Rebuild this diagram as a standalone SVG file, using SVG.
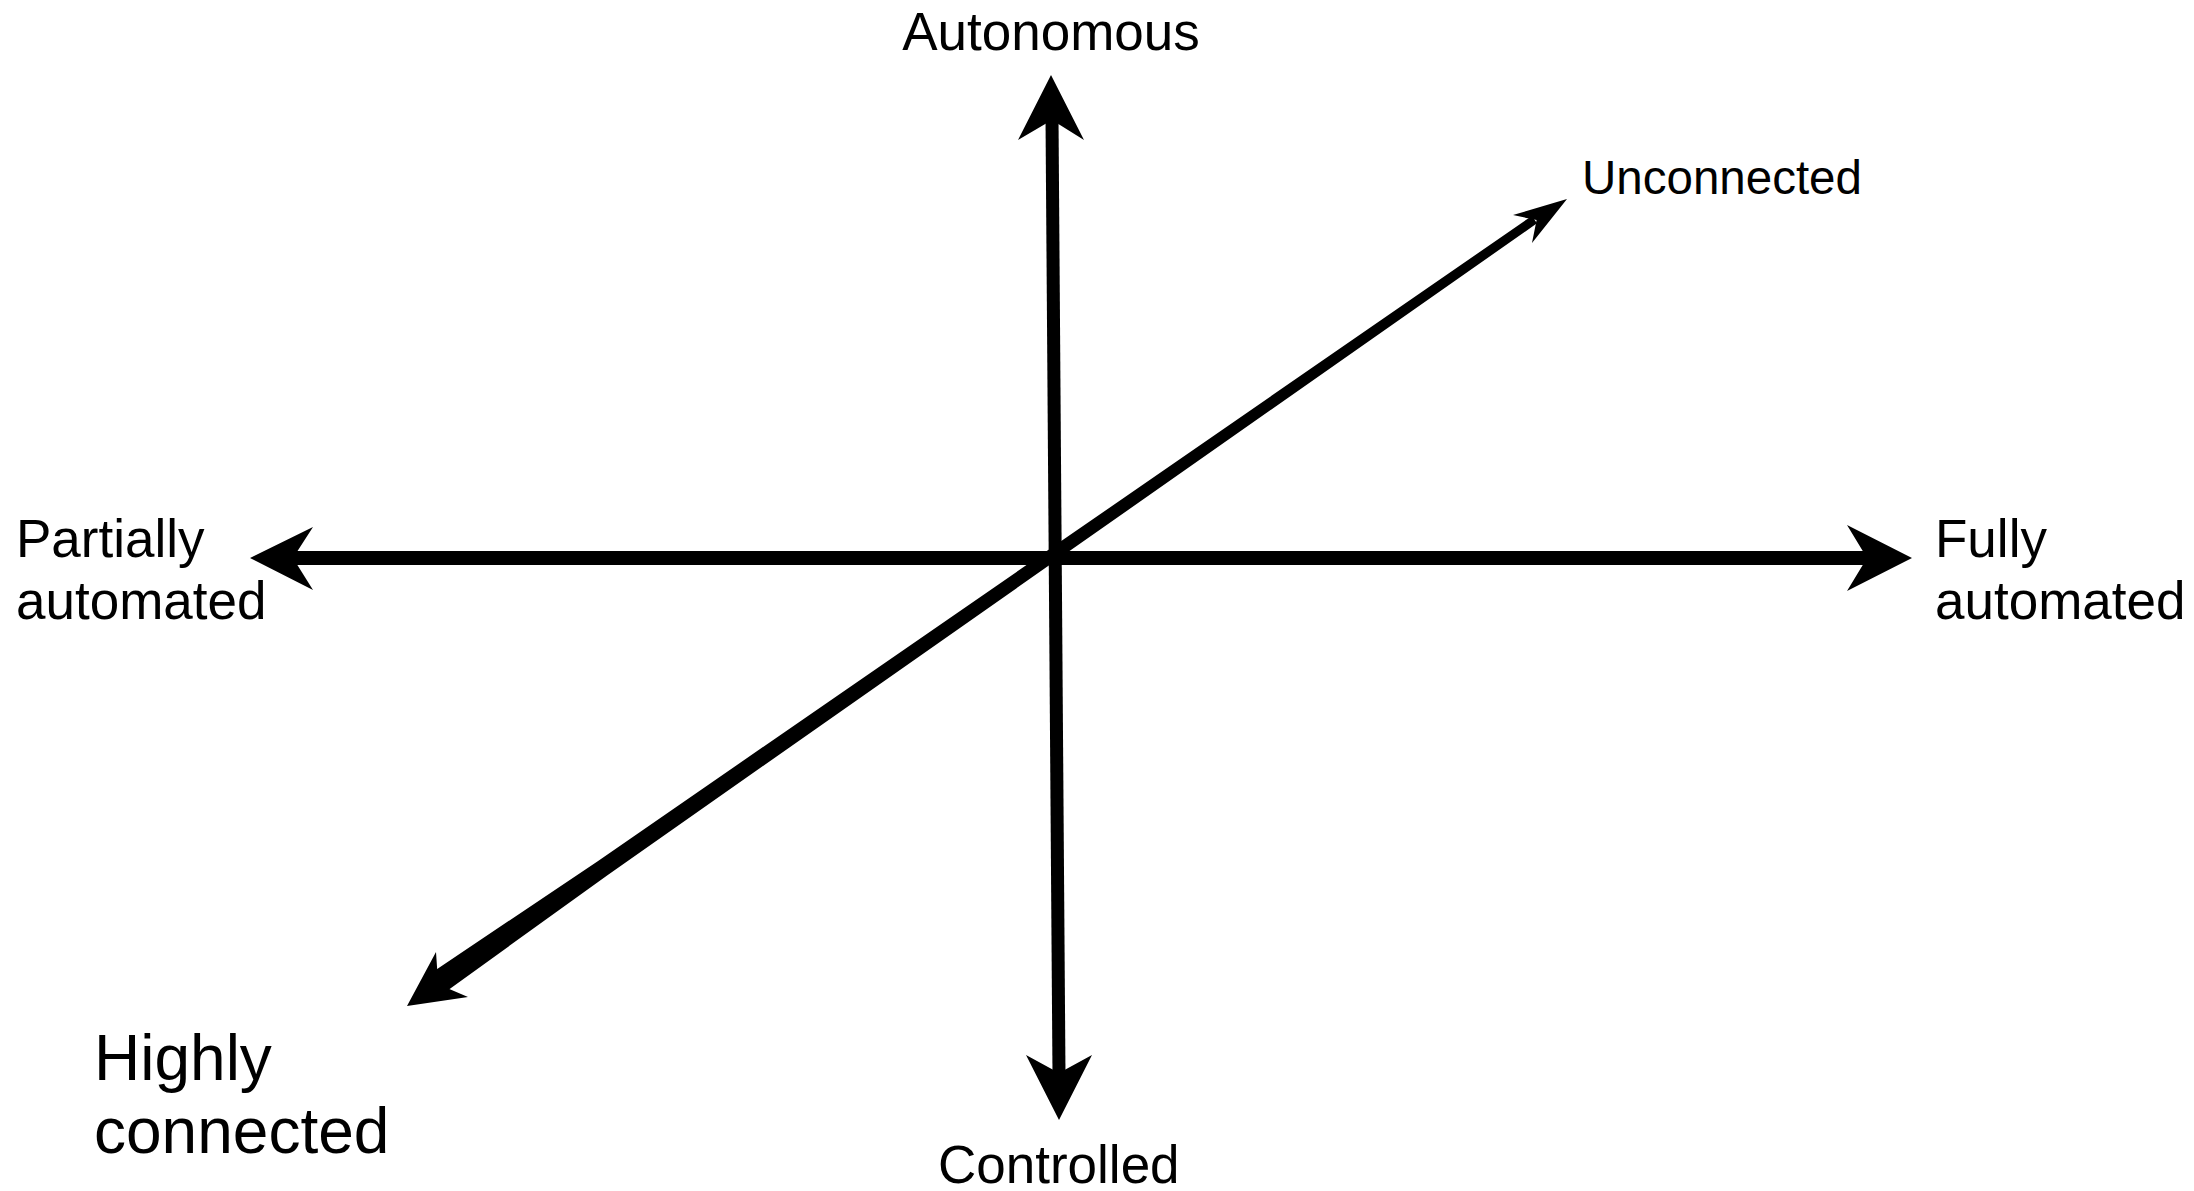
<svg xmlns="http://www.w3.org/2000/svg" width="2194" height="1191" viewBox="0 0 2194 1191">
<style>
.lbl{font-family:"Liberation Sans",Arial,sans-serif;fill:#000;font-size:53px}
.big{font-size:64px}
.sm{font-size:47.5px}
.shaft{stroke:#000;fill:none}
.head{fill:#000;stroke:none}
</style>
<rect width="2194" height="1191" fill="#fff"/>
<g id="connectors">
  <g id="axis-horizontal">
    <line class="shaft" x1="290" y1="558" x2="1870" y2="558" stroke-width="14"/>
    <polygon class="head" points="250,558 313,527 293,558 313,590"/>
    <polygon class="head" points="1912,558 1847,525 1867,558 1847,591"/>
  </g>
  <g id="axis-vertical">
    <line class="shaft" x1="1052" y1="117" x2="1059" y2="1076" stroke-width="13"/>
    <polygon class="head" points="1051,75 1018,140 1052,120 1084,140"/>
    <polygon class="head" points="1059,1120 1026,1055 1059,1073 1092,1055"/>
  </g>
  <g id="axis-diagonal">
    <polygon class="head" points="423.8,978.0 598.1,860.9 1048.2,550.1 1531.9,215.9 1537.0,223.3 1055.6,560.8 607.8,874.9 437.5,997.7"/>
    <polygon class="head" points="1567,199 1513,215 1536.6,220.1 1532,243"/>
    <polygon class="head" points="407,1006 436,952 438.2,984.3 468,997"/>
  </g>
</g>
<g id="node-autonomous"><text class="lbl" x="1051" y="50" text-anchor="middle">Autonomous</text></g>
<g id="node-unconnected"><text class="lbl sm" x="1582" y="194">Unconnected</text></g>
<g id="node-partially"><text class="lbl" x="16" y="557">Partially</text><text class="lbl" x="16" y="619">automated</text></g>
<g id="node-fully"><text class="lbl" x="1935" y="557">Fully</text><text class="lbl" x="1935" y="619">automated</text></g>
<g id="node-highly"><text class="lbl big" x="94" y="1080">Highly</text><text class="lbl big" x="94" y="1153">connected</text></g>
<g id="node-controlled"><text class="lbl" x="938" y="1183">Controlled</text></g>
</svg>
